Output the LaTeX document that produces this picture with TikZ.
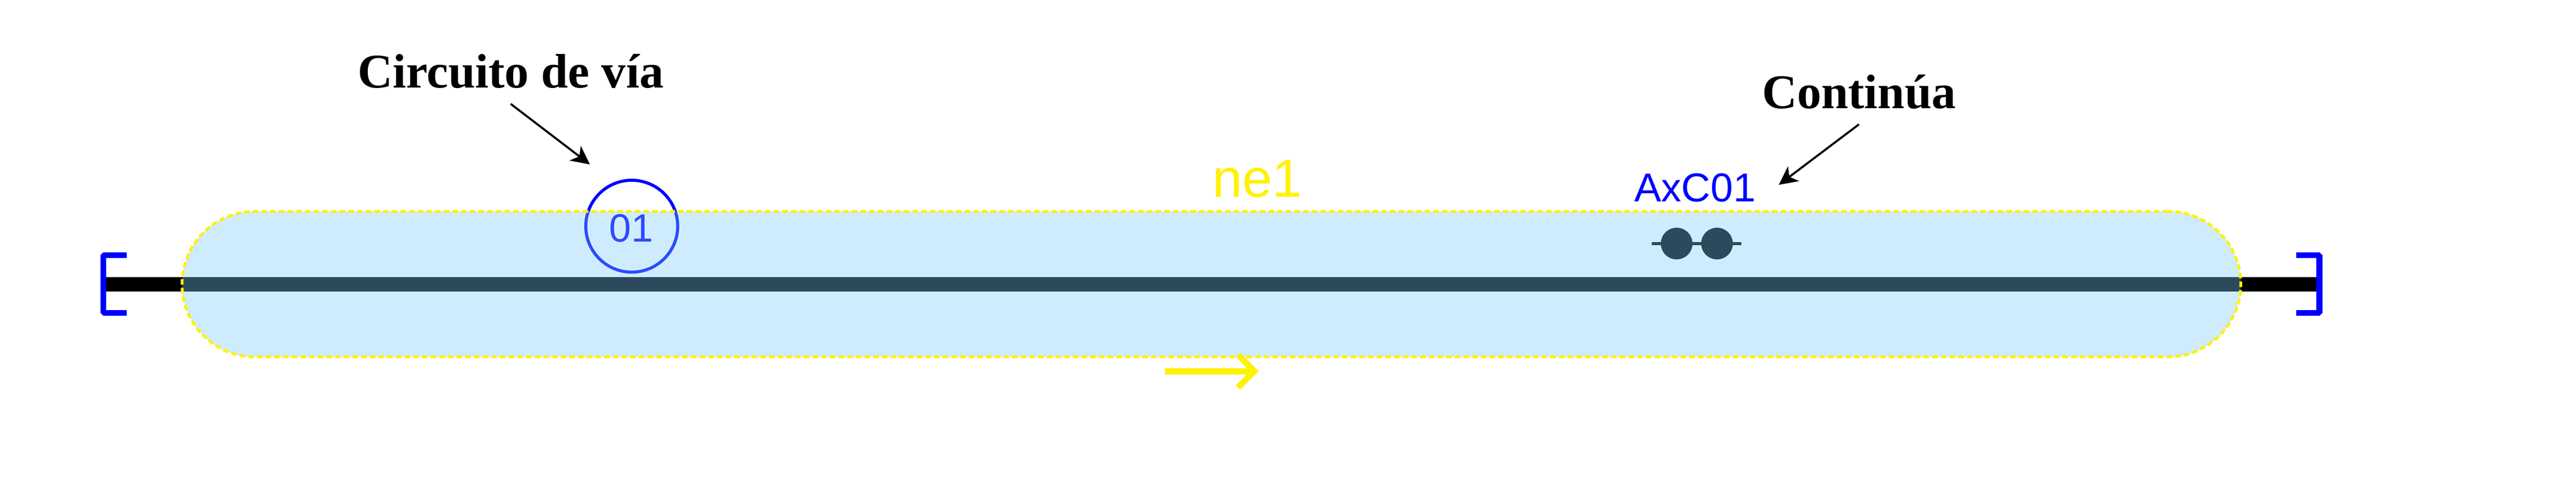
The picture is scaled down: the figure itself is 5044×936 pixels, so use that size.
\documentclass[tikz,border=0pt]{standalone}
\usepackage{fontspec}
\setmainfont{Liberation Serif}
\setsansfont{Liberation Sans}
\usetikzlibrary{arrows.meta}
\tikzset{
  rail/.style={line width=0.56cm,line cap=butt},
  stopper/.style={draw=blue,line width=0.23cm,line join=bevel},
  zone/.style={draw=yellow,line width=0.11cm,dash pattern=on 0.22cm off 0.12cm,
    fill={rgb,255:red,126;green,203;blue,255},fill opacity=0.365,draw opacity=1,
    rounded corners=2.85cm,minimum width=80.64cm,minimum height=5.7cm,inner sep=0pt},
  wheel/.style={circle,fill=black,minimum size=1.24cm,inner sep=0pt},
  callout/.style={font=\bfseries\fontsize{54}{54}\selectfont,anchor=base,inner sep=0.6cm},
  pointer/.style={line width=0.08cm,-{Stealth[length=0.72cm,width=0.72cm,inset=0.2cm]}},
  sense/.style={draw=yellow,line width=0.24cm}
}
\begin{document}
\begin{tikzpicture}[x=0.02cm,y=-0.02cm]
\fill[white] (0,0) rectangle (5044,936);
\useasboundingbox (0,0) rectangle (5044,936);
% what lies under the zone
\coordinate (railw) at (208,557);
\coordinate (raile) at (4536,557);
\draw[rail] (railw) -- (raile);
\draw[stopper] (248,500) -- (202.5,500) -- (202.5,613) -- (248,613);
\draw[stopper] (4496,500) -- (4541.5,500) -- (4541.5,613) -- (4496,613);
\node[circle,draw=blue,line width=0.12cm,minimum size=3.6cm,inner sep=0pt] (cdv) at (1237,443) {};
\node[anchor=base,text=blue,inner sep=0pt,font=\sffamily\fontsize{44}{44}\selectfont] (cdvnum) at (1236,474) {01};
\node[wheel] (axa) at (3283,477) {};
\node[wheel] (axb) at (3362,477) {};
\coordinate (axw) at (3234,477);
\coordinate (axe) at (3410,477);
\draw[line width=0.12cm] (axw) -- (axe);
% zone
\node[zone] (ne) at (2372,556.5) {};
% labels
\node[anchor=base,text=yellow,inner sep=0pt,font=\sffamily\fontsize{60}{60}\selectfont] (nename) at (2462,386) {ne1};
\node[anchor=base,text=blue,inner sep=0pt,font=\sffamily\fontsize{45}{45}\selectfont] (axname) at (3319,395) {AxC01};
\node[callout] (lblcdv) at (1000,172) {Circuito de vía};
\node[callout] (lblcont) at (3640,212) {Continúa};
\coordinate (tipcdv) at (1155,322);
\coordinate (tipcont) at (3483,362);
\draw[pointer] (lblcdv.south) -- (tipcdv);
\draw[pointer] (lblcont.south) -- (tipcont);
% direction
\coordinate (dira) at (2281,727);
\coordinate (dirb) at (2452,727);
\draw[sense] (dira) -- (dirb);
\draw[sense] (2424,695) -- (2456,727) -- (2424,759);
\end{tikzpicture}
\end{document}
